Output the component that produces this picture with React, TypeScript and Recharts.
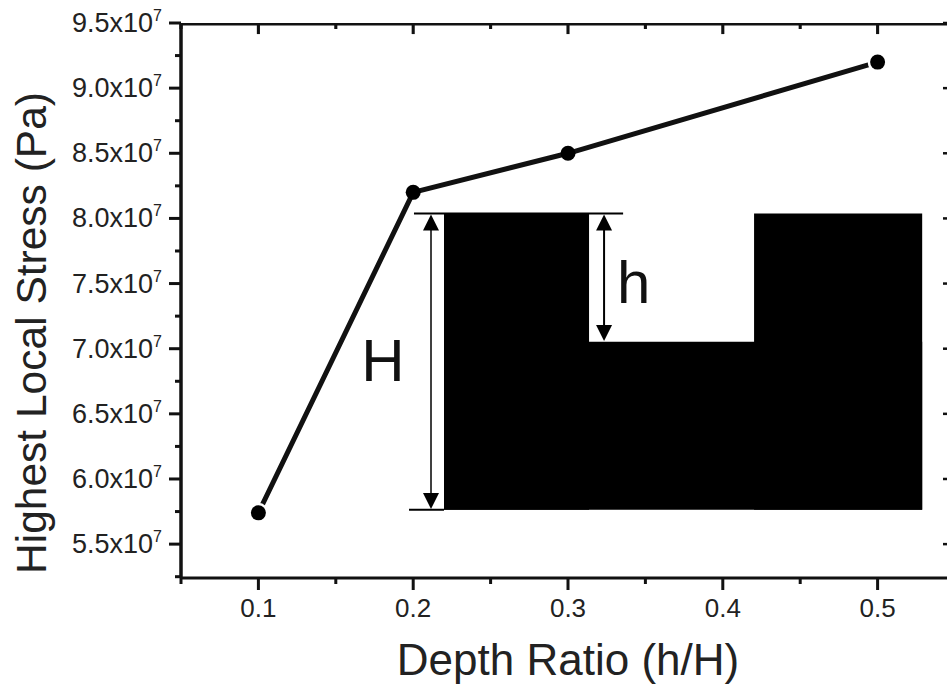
import React from 'react';
import { LineChart, Line, XAxis, YAxis, ReferenceArea, ReferenceLine, ReferenceDot } from 'recharts';

const depthRatio = [0.1, 0.2, 0.3, 0.5];
const stress = [5.74e7, 8.2e7, 8.5e7, 9.2e7];
const xTicks = [0.05, 0.1, 0.15, 0.2, 0.25, 0.3, 0.35, 0.4, 0.45, 0.5, 0.55];
const yTicks = [5.25e7, 5.5e7, 5.75e7, 6e7, 6.25e7, 6.5e7, 6.75e7, 7e7, 7.25e7, 7.5e7, 7.75e7, 8e7, 8.25e7, 8.5e7, 8.75e7, 9e7, 9.25e7, 9.5e7];
const xMajor = [0.1, 0.2, 0.3, 0.4, 0.5];
const xDomain = [0.05, 0.55];
const yDomain = [5.24e7, 9.5e7];
const yTop = 9.5e7;
const yTopInner = 9.48e7;
const topTickMajorEnd = 9.415e7;
const topTickMinorEnd = 9.454e7;
const tickHalfWidth = 0.001;

// inset drawing of the notched specimen, in chart units
const blocks = [
  { x1: 0.2199, x2: 0.3136, y1: 5.763e7, y2: 8.037e7 },
  { x1: 0.2199, x2: 0.5288, y1: 5.763e7, y2: 7.054e7 },
  { x1: 0.4202, x2: 0.5288, y1: 5.763e7, y2: 8.037e7 },
];
const guides = [
  { x1: 0.2005, y1: 8.037e7, x2: 0.3356, y2: 8.037e7 },
  { x1: 0.1973, y1: 5.763e7, x2: 0.2199, y2: 5.763e7 },
];
const arrows = [
  { x: 0.2115, y1: 5.77e7, y2: 8.03e7, width: 1.5 },
  { x: 0.3233, y1: 7.06e7, y2: 8.03e7, width: 2 },
];
const insetLabels = [
  { x: 0.1805, y: 6.915e7, text: 'H' },
  { x: 0.3425, y: 7.515e7, text: 'h' },
];

const rows = depthRatio.map((d, i) => ({ d, s: stress[i] }));
const FONT = '"Liberation Sans", Arial, sans-serif';
const INK = '#111';
const isMajorX = (v: number) => xMajor.some((m) => Math.abs(m - v) < 1e-6);
const isMajorY = (v: number) => Math.abs(Math.round(v / 5e6) * 5e6 - v) < 1;

function BottomTick({ x, y, payload }: any) {
  const major = isMajorX(payload.value);
  return (
    <g>
      <line x1={x} x2={x} y1={y} y2={y + (major ? 12 : 6)} stroke={INK} strokeWidth={3} />
      {major && (
        <text x={x} y={y + 39} textAnchor="middle" fontFamily={FONT} fontSize={26} fill="#222">
          {payload.value.toFixed(1)}
        </text>
      )}
    </g>
  );
}
function LeftTick({ x, y, payload }: any) {
  const major = isMajorY(payload.value);
  return (
    <g>
      <line x1={x} x2={x - (major ? 12 : 6)} y1={y} y2={y} stroke={INK} strokeWidth={3} />
      {major && (
        <text x={x - 19} y={y + 9} textAnchor="end" fontFamily={FONT} fontSize={27} fill="#222">
          {(payload.value / 1e7).toFixed(1)}x10
          <tspan fontSize={16} dy={-11}>7</tspan>
        </text>
      )}
    </g>
  );
}
function RightTick({ x, y, payload }: any) {
  const major = isMajorY(payload.value);
  return <line x1={x} x2={x - (major ? 12 : 6)} y1={y} y2={y} stroke={INK} strokeWidth={2.5} />;
}
function Marker({ cx, cy, index }: any) {
  const halo = index === 0 || index === depthRatio.length - 1;
  return (
    <g>
      {halo && <circle cx={cx} cy={cy} r={10} fill="#fff" />}
      <circle cx={cx} cy={cy} r={7.5} fill="#000" />
    </g>
  );
}
function Arrow({ x1, y1, x2, y2, sw }: any) {
  const top = Math.min(y1, y2);
  const bot = Math.max(y1, y2);
  return (
    <g>
      <line x1={x1} x2={x2} y1={top + 10} y2={bot - 10} stroke="#000" strokeWidth={sw} />
      <polygon points={`${x1},${top} ${x1 - 8},${top + 16} ${x1 + 8},${top + 16}`} fill="#000" />
      <polygon points={`${x1},${bot} ${x1 - 8},${bot - 16} ${x1 + 8},${bot - 16}`} fill="#000" />
    </g>
  );
}

export default function App() {
  return (
    <div style={{ position: 'absolute', left: 0, top: 0, width: 947, height: 684, overflow: 'hidden', background: '#fff' }}>
      <LineChart width={1000} height={684} data={rows} margin={{ top: 23, right: 0, bottom: 0, left: 0 }}>
        <XAxis
          dataKey="d" type="number" domain={xDomain} ticks={xTicks} interval={0}
          height={106} tick={<BottomTick />} tickLine={false} tickSize={0} tickMargin={0}
          axisLine={{ stroke: INK, strokeWidth: 3 }} allowDataOverflow
          label={{ value: 'Depth Ratio (h/H)', position: 'insideBottom', offset: 9, fontFamily: FONT, fontSize: 44, fill: '#222' }}
        />
        <YAxis
          type="number" domain={yDomain} ticks={yTicks} interval={0} width={181}
          tick={<LeftTick />} tickLine={false} tickSize={0} tickMargin={0}
          axisLine={{ stroke: INK, strokeWidth: 3.5 }} allowDataOverflow
          label={{ value: 'Highest Local Stress (Pa)', angle: -90, position: { x: 46, y: 310 }, fontFamily: FONT, fontSize: 42.5, fill: '#222', style: { textAnchor: 'middle' } }}
        />
        <YAxis
          yAxisId="right" orientation="right" type="number" domain={yDomain} ticks={yTicks} interval={0} width={45}
          tick={<RightTick />} tickLine={false} tickSize={0} tickMargin={0}
          axisLine={{ stroke: INK, strokeWidth: 2.5 }} allowDataOverflow
        />
        <ReferenceArea x1={xDomain[0]} x2={xDomain[1]} y1={yTopInner} y2={yTop} fill={INK} fillOpacity={1} stroke="none" />
        {xTicks.map((v) => (
          <ReferenceArea
            key={v}
            x1={v - tickHalfWidth}
            x2={v + tickHalfWidth}
            y1={isMajorX(v) ? topTickMajorEnd : topTickMinorEnd}
            y2={yTop}
            fill={INK}
            fillOpacity={1}
            stroke="none"
            ifOverflow="visible"
          />
        ))}
        {blocks.map((b, i) => (
          <ReferenceArea key={i} x1={b.x1} x2={b.x2} y1={b.y1} y2={b.y2} fill="#000" fillOpacity={1} stroke="none" />
        ))}
        {guides.map((g, i) => (
          <ReferenceLine key={i} segment={[{ x: g.x1, y: g.y1 }, { x: g.x2, y: g.y2 }]} stroke="#000" strokeWidth={2} />
        ))}
        {arrows.map((a, i) => (
          <ReferenceLine
            key={i}
            segment={[{ x: a.x, y: a.y1 }, { x: a.x, y: a.y2 }]}
            shape={(p: any) => <Arrow {...p} sw={a.width} />}
          />
        ))}
        {insetLabels.map((l, i) => (
          <ReferenceDot
            key={i} x={l.x} y={l.y} r={0} stroke="none" fill="none"
            label={{ value: l.text, position: 'center', fontFamily: FONT, fontSize: 60, fill: '#111' }}
          />
        ))}
        <Line dataKey="s" stroke={INK} strokeWidth={5} dot={<Marker />} isAnimationActive={false} />
      </LineChart>
    </div>
  );
}
